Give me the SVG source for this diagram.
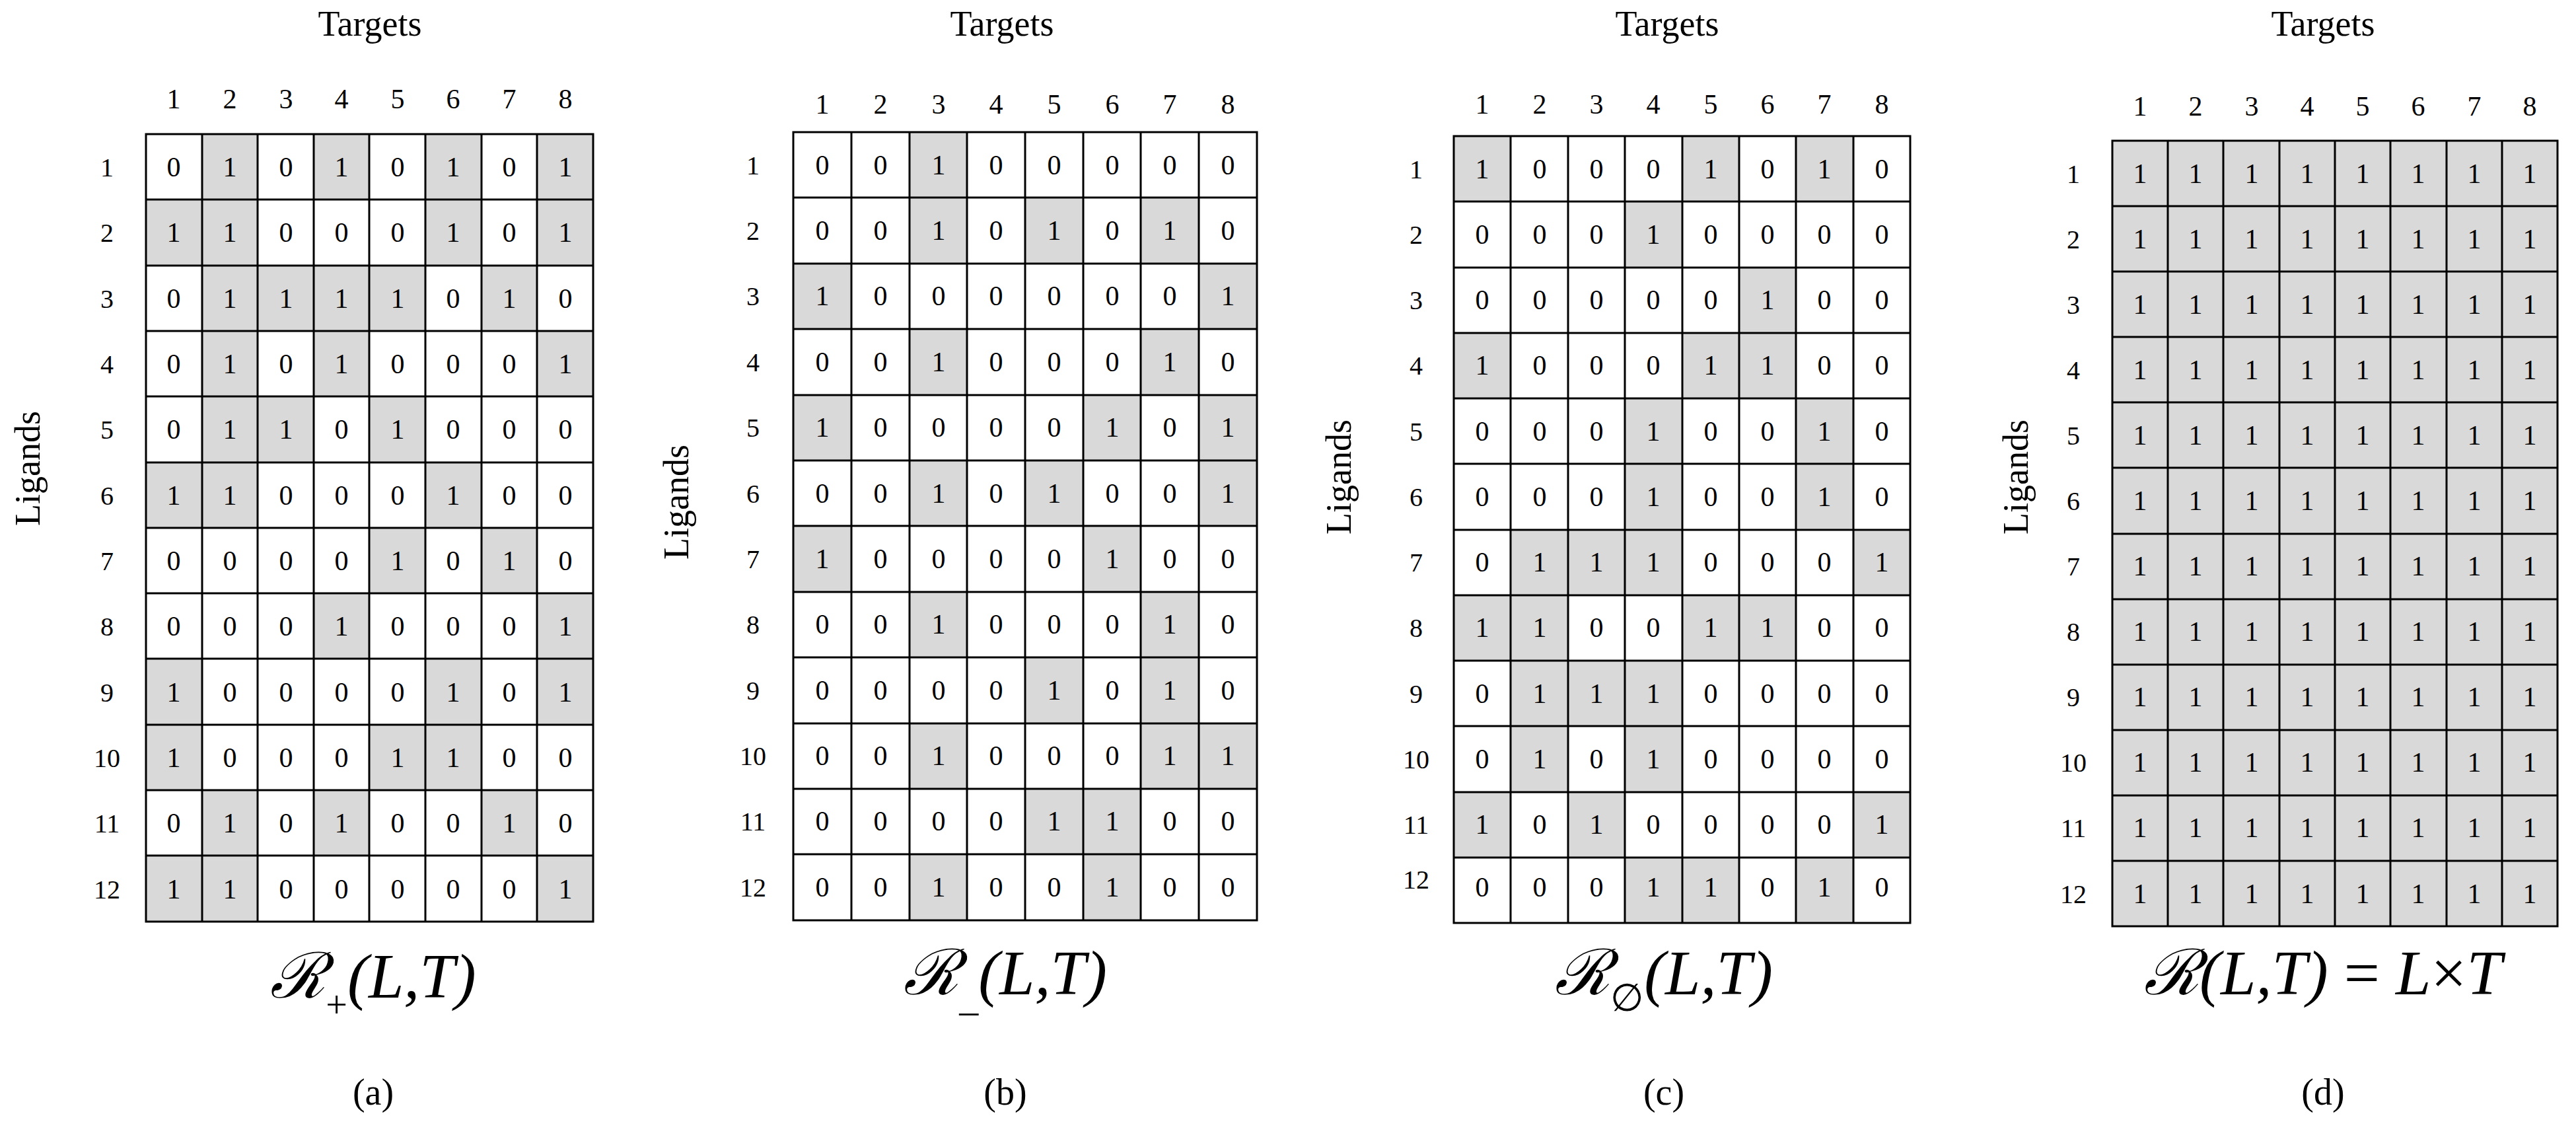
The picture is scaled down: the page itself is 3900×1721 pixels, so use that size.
<svg xmlns="http://www.w3.org/2000/svg" width="3900" height="1721" viewBox="0 0 3900 1721">
<style>
text{font-family:"Liberation Serif","DejaVu Serif",serif;fill:#000}
.t{font-size:54px;text-anchor:middle}
.c{font-size:42px;text-anchor:middle}
.d{font-size:42px;text-anchor:middle}
.r{font-size:40px;text-anchor:middle}
.f{font-size:96px;font-style:italic;text-anchor:middle}
.s{font-size:58px;font-style:normal}
.p{font-size:56px;text-anchor:middle}
.g{fill:#d9d9d9}
.grid{fill:none;stroke:#000;stroke-width:3}
</style>
<rect width="3900" height="1721" fill="#fff"/>

<g id="panel-a">
<text class="t" x="560" y="54">Targets</text>
<text class="t" transform="translate(60 709) rotate(-90)">Ligands</text>
<text class="c" x="263 348 433 517 602 686 771 856" y="164">12345678</text>
<g>
<rect class="g" x="306" y="203" width="85" height="99"/><rect class="g" x="475" y="203" width="85" height="99"/><rect class="g" x="644" y="203" width="85" height="99"/><rect class="g" x="813" y="203" width="85" height="99"/>
<rect class="g" x="221" y="302" width="85" height="100"/><rect class="g" x="306" y="302" width="85" height="100"/><rect class="g" x="644" y="302" width="85" height="100"/><rect class="g" x="813" y="302" width="85" height="100"/>
<rect class="g" x="306" y="402" width="85" height="99"/><rect class="g" x="390" y="402" width="85" height="99"/><rect class="g" x="475" y="402" width="85" height="99"/><rect class="g" x="559" y="402" width="85" height="99"/><rect class="g" x="729" y="402" width="85" height="99"/>
<rect class="g" x="306" y="501" width="85" height="99"/><rect class="g" x="475" y="501" width="85" height="99"/><rect class="g" x="813" y="501" width="85" height="99"/>
<rect class="g" x="306" y="600" width="85" height="100"/><rect class="g" x="390" y="600" width="85" height="100"/><rect class="g" x="559" y="600" width="85" height="100"/>
<rect class="g" x="221" y="700" width="85" height="99"/><rect class="g" x="306" y="700" width="85" height="99"/><rect class="g" x="644" y="700" width="85" height="99"/>
<rect class="g" x="559" y="799" width="85" height="99"/><rect class="g" x="729" y="799" width="85" height="99"/>
<rect class="g" x="475" y="898" width="85" height="99"/><rect class="g" x="813" y="898" width="85" height="99"/>
<rect class="g" x="221" y="997" width="85" height="100"/><rect class="g" x="644" y="997" width="85" height="100"/><rect class="g" x="813" y="997" width="85" height="100"/>
<rect class="g" x="221" y="1097" width="85" height="99"/><rect class="g" x="559" y="1097" width="85" height="99"/><rect class="g" x="644" y="1097" width="85" height="99"/>
<rect class="g" x="306" y="1196" width="85" height="99"/><rect class="g" x="475" y="1196" width="85" height="99"/><rect class="g" x="729" y="1196" width="85" height="99"/>
<rect class="g" x="221" y="1295" width="85" height="100"/><rect class="g" x="306" y="1295" width="85" height="100"/><rect class="g" x="813" y="1295" width="85" height="100"/>
</g>
<path class="grid" d="M221 203H898V1395H221Z M306 203V1395 M390 203V1395 M475 203V1395 M559 203V1395 M644 203V1395 M729 203V1395 M813 203V1395 M221 302H898 M221 402H898 M221 501H898 M221 600H898 M221 700H898 M221 799H898 M221 898H898 M221 997H898 M221 1097H898 M221 1196H898 M221 1295H898"/>
<text class="r" x="162" y="267">1</text><text class="r" x="162" y="366">2</text><text class="r" x="162" y="466">3</text><text class="r" x="162" y="565">4</text><text class="r" x="162" y="664">5</text><text class="r" x="162" y="764">6</text><text class="r" x="162" y="863">7</text><text class="r" x="162" y="962">8</text><text class="r" x="162" y="1062">9</text><text class="r" x="162" y="1161">10</text><text class="r" x="162" y="1260">11</text><text class="r" x="162" y="1360">12</text>
<g class="d">
<text x="263 348 433 517 602 686 771 856" y="267">01010101</text>
<text x="263 348 433 517 602 686 771 856" y="366">11000101</text>
<text x="263 348 433 517 602 686 771 856" y="466">01111010</text>
<text x="263 348 433 517 602 686 771 856" y="565">01010001</text>
<text x="263 348 433 517 602 686 771 856" y="664">01101000</text>
<text x="263 348 433 517 602 686 771 856" y="764">11000100</text>
<text x="263 348 433 517 602 686 771 856" y="863">00001010</text>
<text x="263 348 433 517 602 686 771 856" y="962">00010001</text>
<text x="263 348 433 517 602 686 771 856" y="1062">10000101</text>
<text x="263 348 433 517 602 686 771 856" y="1161">10001100</text>
<text x="263 348 433 517 602 686 771 856" y="1260">01010010</text>
<text x="263 348 433 517 602 686 771 856" y="1360">11000001</text>
</g>
<text class="f" x="565" y="1510"><tspan font-family="DejaVu Serif">ℛ</tspan><tspan class="s" dy="30">+</tspan><tspan dy="-30">(L,T)</tspan></text>
<text class="p" x="565" y="1672">(a)</text>
</g>

<g id="panel-b">
<text class="t" x="1517" y="54">Targets</text>
<text class="t" transform="translate(1042 760) rotate(-90)">Ligands</text>
<text class="c" x="1245 1333 1421 1508 1596 1684 1771 1859" y="172">12345678</text>
<g>
<rect class="g" x="1377" y="200" width="88" height="99"/>
<rect class="g" x="1377" y="299" width="88" height="100"/><rect class="g" x="1552" y="299" width="88" height="100"/><rect class="g" x="1727" y="299" width="88" height="100"/>
<rect class="g" x="1201" y="399" width="88" height="99"/><rect class="g" x="1815" y="399" width="88" height="99"/>
<rect class="g" x="1377" y="498" width="88" height="100"/><rect class="g" x="1727" y="498" width="88" height="100"/>
<rect class="g" x="1201" y="598" width="88" height="99"/><rect class="g" x="1640" y="598" width="88" height="99"/><rect class="g" x="1815" y="598" width="88" height="99"/>
<rect class="g" x="1377" y="697" width="88" height="99"/><rect class="g" x="1552" y="697" width="88" height="99"/><rect class="g" x="1815" y="697" width="88" height="99"/>
<rect class="g" x="1201" y="796" width="88" height="100"/><rect class="g" x="1640" y="796" width="88" height="100"/>
<rect class="g" x="1377" y="896" width="88" height="99"/><rect class="g" x="1727" y="896" width="88" height="99"/>
<rect class="g" x="1552" y="995" width="88" height="100"/><rect class="g" x="1727" y="995" width="88" height="100"/>
<rect class="g" x="1377" y="1095" width="88" height="99"/><rect class="g" x="1727" y="1095" width="88" height="99"/><rect class="g" x="1815" y="1095" width="88" height="99"/>
<rect class="g" x="1552" y="1194" width="88" height="99"/><rect class="g" x="1640" y="1194" width="88" height="99"/>
<rect class="g" x="1377" y="1293" width="88" height="100"/><rect class="g" x="1640" y="1293" width="88" height="100"/>
</g>
<path class="grid" d="M1201 200H1903V1393H1201Z M1289 200V1393 M1377 200V1393 M1464 200V1393 M1552 200V1393 M1640 200V1393 M1727 200V1393 M1815 200V1393 M1201 299H1903 M1201 399H1903 M1201 498H1903 M1201 598H1903 M1201 697H1903 M1201 796H1903 M1201 896H1903 M1201 995H1903 M1201 1095H1903 M1201 1194H1903 M1201 1293H1903"/>
<text class="r" x="1140" y="264">1</text><text class="r" x="1140" y="363">2</text><text class="r" x="1140" y="462">3</text><text class="r" x="1140" y="562">4</text><text class="r" x="1140" y="661">5</text><text class="r" x="1140" y="761">6</text><text class="r" x="1140" y="860">7</text><text class="r" x="1140" y="959">8</text><text class="r" x="1140" y="1059">9</text><text class="r" x="1140" y="1158">10</text><text class="r" x="1140" y="1257">11</text><text class="r" x="1140" y="1357">12</text>
<g class="d">
<text x="1245 1333 1421 1508 1596 1684 1771 1859" y="264">00100000</text>
<text x="1245 1333 1421 1508 1596 1684 1771 1859" y="363">00101010</text>
<text x="1245 1333 1421 1508 1596 1684 1771 1859" y="462">10000001</text>
<text x="1245 1333 1421 1508 1596 1684 1771 1859" y="562">00100010</text>
<text x="1245 1333 1421 1508 1596 1684 1771 1859" y="661">10000101</text>
<text x="1245 1333 1421 1508 1596 1684 1771 1859" y="761">00101001</text>
<text x="1245 1333 1421 1508 1596 1684 1771 1859" y="860">10000100</text>
<text x="1245 1333 1421 1508 1596 1684 1771 1859" y="959">00100010</text>
<text x="1245 1333 1421 1508 1596 1684 1771 1859" y="1059">00001010</text>
<text x="1245 1333 1421 1508 1596 1684 1771 1859" y="1158">00100011</text>
<text x="1245 1333 1421 1508 1596 1684 1771 1859" y="1257">00001100</text>
<text x="1245 1333 1421 1508 1596 1684 1771 1859" y="1357">00100100</text>
</g>
<text class="f" x="1522" y="1505"><tspan font-family="DejaVu Serif">ℛ</tspan><tspan class="s" dy="25">_</tspan><tspan dy="-25">(L,T)</tspan></text>
<text class="p" x="1522" y="1672">(b)</text>
</g>

<g id="panel-c">
<text class="t" x="2524" y="54">Targets</text>
<text class="t" transform="translate(2045 722) rotate(-90)">Ligands</text>
<text class="c" x="2244 2331 2417 2503 2590 2676 2762 2849" y="172">12345678</text>
<g>
<rect class="g" x="2201" y="206" width="86" height="99"/><rect class="g" x="2547" y="206" width="86" height="99"/><rect class="g" x="2719" y="206" width="87" height="99"/>
<rect class="g" x="2460" y="305" width="87" height="100"/>
<rect class="g" x="2633" y="405" width="86" height="99"/>
<rect class="g" x="2201" y="504" width="86" height="99"/><rect class="g" x="2547" y="504" width="86" height="99"/><rect class="g" x="2633" y="504" width="86" height="99"/>
<rect class="g" x="2460" y="603" width="87" height="99"/><rect class="g" x="2719" y="603" width="87" height="99"/>
<rect class="g" x="2460" y="702" width="87" height="100"/><rect class="g" x="2719" y="702" width="87" height="100"/>
<rect class="g" x="2287" y="802" width="87" height="99"/><rect class="g" x="2374" y="802" width="86" height="99"/><rect class="g" x="2460" y="802" width="87" height="99"/><rect class="g" x="2806" y="802" width="86" height="99"/>
<rect class="g" x="2201" y="901" width="86" height="99"/><rect class="g" x="2287" y="901" width="87" height="99"/><rect class="g" x="2547" y="901" width="86" height="99"/><rect class="g" x="2633" y="901" width="86" height="99"/>
<rect class="g" x="2287" y="1000" width="87" height="99"/><rect class="g" x="2374" y="1000" width="86" height="99"/><rect class="g" x="2460" y="1000" width="87" height="99"/>
<rect class="g" x="2287" y="1099" width="87" height="100"/><rect class="g" x="2460" y="1099" width="87" height="100"/>
<rect class="g" x="2201" y="1199" width="86" height="99"/><rect class="g" x="2374" y="1199" width="86" height="99"/><rect class="g" x="2806" y="1199" width="86" height="99"/>
<rect class="g" x="2460" y="1298" width="87" height="99"/><rect class="g" x="2547" y="1298" width="86" height="99"/><rect class="g" x="2719" y="1298" width="87" height="99"/>
</g>
<path class="grid" d="M2201 206H2892V1397H2201Z M2287 206V1397 M2374 206V1397 M2460 206V1397 M2547 206V1397 M2633 206V1397 M2719 206V1397 M2806 206V1397 M2201 305H2892 M2201 405H2892 M2201 504H2892 M2201 603H2892 M2201 702H2892 M2201 802H2892 M2201 901H2892 M2201 1000H2892 M2201 1099H2892 M2201 1199H2892 M2201 1298H2892"/>
<text class="r" x="2144" y="270">1</text><text class="r" x="2144" y="369">2</text><text class="r" x="2144" y="468">3</text><text class="r" x="2144" y="567">4</text><text class="r" x="2144" y="667">5</text><text class="r" x="2144" y="766">6</text><text class="r" x="2144" y="865">7</text><text class="r" x="2144" y="964">8</text><text class="r" x="2144" y="1064">9</text><text class="r" x="2144" y="1163">10</text><text class="r" x="2144" y="1262">11</text><text class="r" x="2144" y="1345">12</text>
<g class="d">
<text x="2244 2331 2417 2503 2590 2676 2762 2849" y="270">10001010</text>
<text x="2244 2331 2417 2503 2590 2676 2762 2849" y="369">00010000</text>
<text x="2244 2331 2417 2503 2590 2676 2762 2849" y="468">00000100</text>
<text x="2244 2331 2417 2503 2590 2676 2762 2849" y="567">10001100</text>
<text x="2244 2331 2417 2503 2590 2676 2762 2849" y="667">00010010</text>
<text x="2244 2331 2417 2503 2590 2676 2762 2849" y="766">00010010</text>
<text x="2244 2331 2417 2503 2590 2676 2762 2849" y="865">01110001</text>
<text x="2244 2331 2417 2503 2590 2676 2762 2849" y="964">11001100</text>
<text x="2244 2331 2417 2503 2590 2676 2762 2849" y="1064">01110000</text>
<text x="2244 2331 2417 2503 2590 2676 2762 2849" y="1163">01010000</text>
<text x="2244 2331 2417 2503 2590 2676 2762 2849" y="1262">10100001</text>
<text x="2244 2331 2417 2503 2590 2676 2762 2849" y="1357">00011010</text>
</g>
<text class="f" x="2519" y="1505"><tspan font-family="DejaVu Serif">ℛ</tspan><tspan class="s" font-size="48" dy="25">∅</tspan><tspan dy="-25">(L,T)</tspan></text>
<text class="p" x="2519" y="1672">(c)</text>
</g>

<g id="panel-d">
<text class="t" x="3517" y="54">Targets</text>
<text class="t" transform="translate(3070 722) rotate(-90)">Ligands</text>
<text class="c" x="3240 3324 3409 3493 3577 3661 3746 3830" y="175">12345678</text>
<rect class="g" x="3198" y="213" width="674" height="1189"/>
<path class="grid" d="M3198 213H3872V1402H3198Z M3282 213V1402 M3366 213V1402 M3451 213V1402 M3535 213V1402 M3619 213V1402 M3704 213V1402 M3788 213V1402 M3198 312H3872 M3198 411H3872 M3198 510H3872 M3198 609H3872 M3198 708H3872 M3198 808H3872 M3198 907H3872 M3198 1006H3872 M3198 1105H3872 M3198 1204H3872 M3198 1303H3872"/>
<text class="r" x="3139" y="277">1</text><text class="r" x="3139" y="376">2</text><text class="r" x="3139" y="475">3</text><text class="r" x="3139" y="574">4</text><text class="r" x="3139" y="673">5</text><text class="r" x="3139" y="772">6</text><text class="r" x="3139" y="871">7</text><text class="r" x="3139" y="970">8</text><text class="r" x="3139" y="1069">9</text><text class="r" x="3139" y="1168">10</text><text class="r" x="3139" y="1267">11</text><text class="r" x="3139" y="1367">12</text>
<g class="d">
<text x="3240 3324 3409 3493 3577 3661 3746 3830" y="277">11111111</text>
<text x="3240 3324 3409 3493 3577 3661 3746 3830" y="376">11111111</text>
<text x="3240 3324 3409 3493 3577 3661 3746 3830" y="475">11111111</text>
<text x="3240 3324 3409 3493 3577 3661 3746 3830" y="574">11111111</text>
<text x="3240 3324 3409 3493 3577 3661 3746 3830" y="673">11111111</text>
<text x="3240 3324 3409 3493 3577 3661 3746 3830" y="772">11111111</text>
<text x="3240 3324 3409 3493 3577 3661 3746 3830" y="871">11111111</text>
<text x="3240 3324 3409 3493 3577 3661 3746 3830" y="970">11111111</text>
<text x="3240 3324 3409 3493 3577 3661 3746 3830" y="1069">11111111</text>
<text x="3240 3324 3409 3493 3577 3661 3746 3830" y="1168">11111111</text>
<text x="3240 3324 3409 3493 3577 3661 3746 3830" y="1267">11111111</text>
<text x="3240 3324 3409 3493 3577 3661 3746 3830" y="1367">11111111</text>
</g>
<text class="f" x="3517" y="1505"><tspan font-family="DejaVu Serif">ℛ</tspan>(L,T)<tspan font-style="normal"> = </tspan>L<tspan font-style="normal">×</tspan>T</text>
<text class="p" x="3517" y="1672">(d)</text>
</g>
</svg>
